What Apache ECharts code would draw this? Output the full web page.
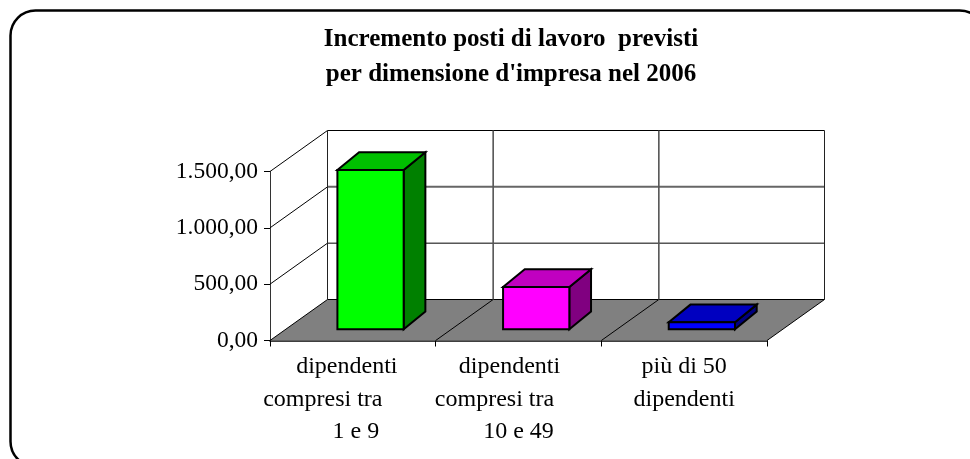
<!DOCTYPE html>
<html>
<head>
<meta charset="utf-8">
<style>
html,body{margin:0;padding:0;background:#fff}
#chart{width:970px;height:459px}
</style>
<script src="https://cdn.jsdelivr.net/npm/echarts@6/dist/echarts.min.js"></script>
</head>
<body>
<div id="chart"></div>
<script>
var titleLines = ['Incremento posti di lavoro  previsti', "per dimensione d'impresa nel 2006"]
var categories = ['dipendenti  \ncompresi tra          \n 1 e 9', 'dipendenti   \ncompresi tra        \n10 e 49', 'più di 50\ndipendenti']
var values = [1414, 375, 62]
var yTicks = [0, 500, 1000, 1500]
var faceColors = ['#00ff00', '#ff00ff', '#0000ff']
var topColors = ['#00c000', '#c000c0', '#0000c0']
var sideColors = ['#008000', '#800080', '#000080']

// depth of the box the chart stands in, and where a bar sits inside it
var depthX = 57.5
var depthY = 41
var barFront = 11.2
var barDepth = 17.7
var barSlope = 21.7 / 17.7

const mychart = echarts.init(document.getElementById('chart'))

function line(x1, y1, x2, y2, color, width) {
  return {
    type: 'line',
    shape: { x1: x1, y1: y1, x2: x2, y2: y2 },
    style: { stroke: color, lineWidth: width }
  }
}

function poly(points, fill) {
  return {
    type: 'polygon',
    shape: { points: points },
    style: { fill: fill, stroke: '#000', lineWidth: 2, lineJoin: 'miter' }
  }
}

function renderWalls(params, api) {
  var band = api.size([1, 0])[0]
  var left = api.coord([0, 0])[0] - band / 2
  var bottom = api.coord([0, 0])[1]
  var right = left + band * categories.length
  var top = api.coord([0, yTicks[yTicks.length - 1]])[1]
  var children = []

  children.push({
    type: 'polygon',
    shape: { points: [[left, bottom], [right, bottom], [right + depthX, bottom - depthY], [left + depthX, bottom - depthY]] },
    style: { fill: '#808080' }
  })
  yTicks.forEach(function (t) {
    var y = api.coord([0, t])[1]
    children.push(line(left, y, left + depthX, y - depthY, '#000', 1))
    children.push(line(left + depthX, y - depthY, right + depthX, y - depthY, t === 1000 ? '#666' : '#000', t === 1000 ? 2 : 1))
  })
  for (var i = 0; i <= categories.length; i++) {
    var x = left + band * i
    if (i > 0) children.push(line(x, bottom, x + depthX, bottom - depthY, '#000', 1))
    children.push(line(x + depthX, top - depthY, x + depthX, bottom - depthY, i === 1 || i === 2 ? '#555' : '#222', i === 1 || i === 2 ? 1.6 : 1))
  }
  return { type: 'group', children: children }
}

function renderBar(params, api) {
  var i = api.value(0)
  var band = api.size([1, 0])[0]
  var width = band * 0.4
  var base = api.coord([i, 0])
  var tip = api.coord([i, api.value(1)])
  var bottom = base[1] - barFront
  var top = tip[1] - barFront
  var x0 = base[0] - width / 2 + 17.7
  var x1 = x0 + width
  var dx = barDepth * barSlope
  var dy = barDepth
  return {
    type: 'group',
    children: [
      poly([[x1, bottom], [x1 + dx, bottom - dy], [x1 + dx, top - dy], [x1, top]], sideColors[i]),
      poly([[x0, top], [x1, top], [x1 + dx, top - dy], [x0 + dx, top - dy]], topColors[i]),
      poly([[x0, bottom], [x1, bottom], [x1, top], [x0, top]], faceColors[i])
    ]
  }
}

const option = {
  animation: false,
  backgroundColor: '#fff',
  title: {
    text: titleLines.join('\n'),
    left: 506,
    top: 17,
    textAlign: 'center',
    textStyle: {
      fontFamily: 'Liberation Serif',
      fontSize: 25,
      fontWeight: 'bold',
      color: '#000',
      lineHeight: 35
    }
  },
  grid: { left: 270, right: 203, top: 171.5, bottom: 118.5 },
  xAxis: {
    type: 'category',
    data: categories,
    axisLine: { lineStyle: { color: '#000', width: 1.5 } },
    axisTick: { show: true, length: 6, alignWithLabel: false, lineStyle: { color: '#000' } },
    axisLabel: {
      interval: 0,
      margin: 10,
      fontFamily: 'Liberation Serif',
      fontSize: 24,
      lineHeight: 32.5,
      color: '#000'
    }
  },
  yAxis: {
    type: 'value',
    min: 0,
    max: 1500,
    interval: 500,
    splitLine: { show: false },
    axisLine: { show: true, lineStyle: { color: '#333', width: 1 } },
    axisTick: { show: true, length: 6, lineStyle: { color: '#000' } },
    axisLabel: {
      margin: 12,
      fontFamily: 'Liberation Serif',
      fontSize: 23.5,
      color: '#000',
      formatter: function (v) {
        return v.toLocaleString('de-DE', { minimumFractionDigits: 2, maximumFractionDigits: 2 })
      }
    }
  },
  graphic: [{
    type: 'rect',
    z: -1,
    shape: { x: 10.5, y: 10.5, width: 974, height: 456, r: 25 },
    style: { fill: 'none', stroke: '#000', lineWidth: 2.5 }
  }],
  series: [{
    type: 'custom',
    name: 'pareti',
    coordinateSystem: 'cartesian2d',
    clip: false,
    z: 1,
    silent: true,
    renderItem: renderWalls,
    data: [[0, 0]]
  }, {
    type: 'custom',
    name: 'Incremento posti di lavoro',
    coordinateSystem: 'cartesian2d',
    clip: false,
    z: 3,
    renderItem: renderBar,
    encode: { x: 0, y: 1 },
    data: values.map(function (v, i) { return [i, v] })
  }]
}
mychart.setOption(option, true)
</script>
</body>
</html>
